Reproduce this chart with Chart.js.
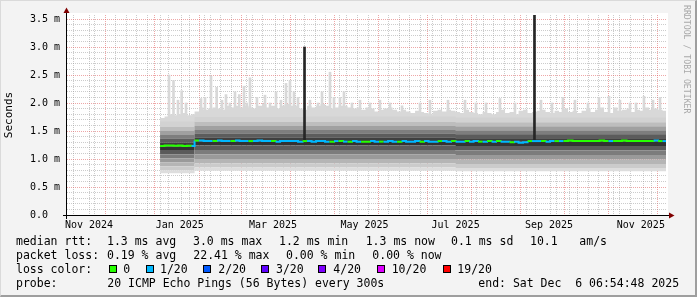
<!DOCTYPE html>
<html>
<head>
<meta charset="utf-8">
<script src="https://cdn.jsdelivr.net/npm/chart.js@4.4.1/dist/chart.umd.min.js"></script>
<style>
body { margin: 0; background: #f3f3f3; }
#wrap { position: relative; width: 697px; height: 297px; overflow: hidden; background: #f3f3f3; font-family: 'DejaVu Sans Mono', monospace; }
#frame { position: absolute; left: 0; top: 0; width: 697px; height: 297px; box-sizing: border-box; border-style: solid; border-width: 1px 2px 2px 1px; border-color: #dadada #9e9e9e #9e9e9e #dadada; pointer-events: none; }
.lg { position: absolute; font-size: 11.5px; line-height: 14px; white-space: pre; color: #000; }
.box { position: absolute; width: 8px; height: 8px; box-sizing: border-box; border: 1px solid #000; }
#mark { position: absolute; left: 682px; top: 5px; writing-mode: vertical-rl; font-size: 8.2px; line-height: 9px; color: #a8a8a8; white-space: pre; }
canvas { position: absolute; left: 0; top: 0; }
</style>
</head>
<body>
<div id="wrap">
  <canvas id="grafica" width="697" height="297"></canvas>
  <div id="mark">RRDTOOL / TOBI OETIKER</div>
  <div id="leyenda"></div>
  <div id="frame"></div>
</div>
<script>
// --- DATOS (x = dias desde 2024-11-01 00:00, y = ms) ---
const xStart = 0.288;    // Nov 1 2024 06:54:48
const xEnd = 400.288;    // Dec 6 2025 06:54:48
const monthStarts = [30, 61, 92, 120, 151, 181, 212, 242, 273, 304, 334, 365, 395];
const monthLabels = ['Nov 2024', 'Jan 2025', 'Mar 2025', 'May 2025', 'Jul 2025', 'Sep 2025', 'Nov 2025'];
const labelDays = [15.6, 76.1, 138.3, 199.3, 260, 322.3, 383.5];
const firstSunday = 2;

// muestras cada ~3 dias
const sampleDays = [63,66,69,72,75,78,81,84,
  86,89,92,95,98,101,104,107,110,113,116,119,122,125,128,131,134,137,140,143,146,149,
  152,155,158,161,164,167,170,173,176,179,182,185,188,191,194,197,200,203,206,209,212,215,
  218,221,224,227,230,233,236,239,242,245,248,251,254,257,260,263,266,269,272,275,278,281,
  284,287,290,293,296,299,302,305,308,311,314,317,320,323,326,329,332,335,338,341,344,347,
  350,353,356,359,362,365,368,371,374,377,380,383,386,389,392,395,398,400.288];

// techo del humo (base de la cola de pings altos)
const tailMax = [1.73,1.76,1.80,1.78,1.80,1.82,1.78,1.80,
  1.85,1.92,1.88,1.90,1.92,1.90,1.88,1.95,1.92,1.95,1.92,
  1.95,1.92,1.90,1.95,1.98,1.92,1.95,1.90,1.95,1.98,1.95,
  1.95,1.90,1.88,1.95,1.92,1.95,1.98,1.95,1.90,1.92,1.95,
  1.95,1.92,1.90,1.92,1.88,1.92,1.90,1.85,1.88,1.90,1.92,
  1.88,1.85,1.88,1.85,1.82,1.86,1.84,1.82,1.80,1.86,1.88,
  1.85,1.88,1.86,1.84,1.82,1.88,1.84,1.82,1.80,1.84,1.82,
  1.80,1.84,1.88,1.82,1.84,1.80,1.86,1.88,1.82,1.84,1.86,
  1.88,1.84,1.82,1.86,1.84,1.90,1.84,1.86,1.82,1.86,1.90,
  1.84,1.88,1.92,1.84,1.82,1.92,1.86,1.88,1.90,1.84,1.88,
  1.86,1.92,1.88,1.90,1.88,1.86,1.86];

// picos finos de la cola (ping maximo)
const tailSpikeDays = [68.95, 71.95, 74.95, 77.4, 80.3, 90.3, 92.95, 96.95, 100.75, 104.3,
  106.95, 109.6, 112.95, 115.8, 118.95, 120.75, 122.95, 127.6, 132.95, 136.3,
  140.3, 143.6, 146.95, 149.6, 152.3, 154.95, 162.95, 168.3, 170.95, 176.3,
  178.95, 182.95, 185.6, 190.95, 196.3, 202.95, 209.6, 216.3, 224.3, 236.3,
  242.95, 254.95, 266.3, 273.6, 280.3, 289.6, 299.6, 316.95, 324.3, 331.6,
  339.6, 348.3, 355.6, 362.3, 369.6, 376.3, 380.3, 385.6, 391.6, 396.3];
const tailSpikeTop = [2.50, 2.40, 2.05, 2.22, 2.00, 2.08, 2.10, 2.48, 2.28, 2.05,
  2.15, 2.00, 2.20, 2.15, 2.30, 2.00, 2.45, 2.10, 2.14, 2.00,
  2.20, 2.05, 2.35, 2.40, 2.20, 2.10, 2.05, 2.00, 2.20, 2.55,
  2.10, 2.10, 2.20, 2.00, 2.05, 2.00, 2.05, 2.00, 1.95, 2.00,
  2.05, 2.05, 2.05, 2.00, 2.00, 2.08, 2.00, 2.05, 2.00, 2.10,
  2.05, 2.00, 2.10, 2.12, 2.05, 2.00, 2.00, 2.12, 2.05, 2.10];

// mediana rtt
const medianRtt = [1.23,1.24,1.24,1.235,1.24,1.23,1.235,1.23,
  1.33,1.33,1.32,1.32,1.32,1.33,1.32,1.32,1.32,1.33,1.32,
  1.32,1.32,1.32,1.33,1.32,1.32,1.32,1.31,1.32,1.32,1.32,
  1.32,1.31,1.32,1.32,1.31,1.32,1.32,1.31,1.31,1.32,1.32,
  1.31,1.31,1.32,1.31,1.31,1.31,1.32,1.31,1.31,1.31,1.32,
  1.31,1.31,1.32,1.31,1.31,1.32,1.31,1.32,1.31,1.31,1.32,
  1.32,1.31,1.32,1.31,1.31,1.32,1.31,1.32,1.31,1.31,1.32,
  1.31,1.32,1.31,1.31,1.30,1.31,1.29,1.30,1.32,1.32,1.32,
  1.32,1.31,1.32,1.32,1.32,1.32,1.33,1.32,1.32,1.32,1.32,
  1.32,1.32,1.33,1.32,1.32,1.32,1.32,1.33,1.32,1.32,1.32,
  1.32,1.32,1.32,1.33,1.32,1.32,1.32];

// indice de perdida (0 = 0, 1 = 1/20 ...)
const lossIdx = [0,0,0,0,0,0,0,1,
  0,1,1,1,0,1,1,1,0,1,1,
  1,0,1,1,1,1,0,1,1,1,1,
  1,1,0,1,1,1,1,1,0,1,0,
  1,0,1,1,0,0,1,1,0,1,1,
  1,0,1,1,1,1,0,1,1,1,0,
  1,1,0,1,1,0,1,1,0,1,0,
  1,0,1,1,0,1,1,1,0,1,1,
  0,1,1,0,1,0,0,0,0,0,0,
  0,0,0,0,1,0,0,0,0,0,0,
  0,0,0,1,0,1,1];

// bandas del humo (de abajo hacia arriba)
const bandDays = [63, 86, 160, 260, 400.288];
const lvl0  = [0.745, 0.79, 0.79, 0.78, 0.78];
const lvl1  = [0.80, 0.85, 0.85, 0.84, 0.84];
const lvl2  = [0.87, 0.92, 0.92, 0.91, 0.91];
const lvl3  = [0.94, 1.00, 1.00, 0.99, 0.99];
const lvl4  = [1.01, 1.08, 1.08, 1.07, 1.07];
const lvl5  = [1.08, 1.16, 1.16, 1.15, 1.15];
const lvl6  = [1.16, 1.24, 1.24, 1.23, 1.23];
const lvl7  = [1.225, 1.31, 1.31, 1.31, 1.31];
const lvl8  = [1.29, 1.38, 1.38, 1.37, 1.37];
const lvl9  = [1.36, 1.45, 1.45, 1.44, 1.44];
const lvl10 = [1.43, 1.52, 1.52, 1.51, 1.51];
const lvl11 = [1.50, 1.59, 1.59, 1.58, 1.58];
const lvl12 = [1.57, 1.66, 1.66, 1.65, 1.65];
const lvl13 = [1.67, 1.75, 1.76, 1.74, 1.74];
const smokeLevels = [lvl0, lvl1, lvl2, lvl3, lvl4, lvl5, lvl6, lvl7, lvl8, lvl9, lvl10, lvl11, lvl12, lvl13];

// picos aislados oscuros
const spikeDays = [159.3, 312.6];
const spikeLow = [1.33, 1.33];
const spikeHigh = [3.0, 3.6];

// leyenda
const lossLabels = ['0', '1/20', '2/20', '3/20', '4/20', '10/20', '19/20'];
const lossColors = ['#26ff00', '#00b8ff', '#0059ff', '#5e00ff', '#7e00ff', '#dd00ff', '#ff0000'];

// --- ESTILOS ---
const bandShades = ['#dddddd', '#cbcbcb', '#b5b5b5', '#9a9a9a', '#7c7c7c', '#5a5a5a', '#333333',
  '#3f3f3f', '#5c5c5c', '#7e7e7e', '#a0a0a0', '#bdbdbd', '#d2d2d2'];
const tailShade = '#d8d8d8';
const gridGris = 'rgba(143,143,143,0.45)';
const gridRojo = 'rgba(222,80,80,0.5)';
const nada = 'rgba(0,0,0,0)';

function esMayorY(v) { return Math.abs(v * 2 - Math.round(v * 2)) < 1e-6; }
function cerca(a, b) { return Math.abs(a - b) < 1e-6; }

// --- DATASETS ---
const datasets = [];
datasets.push({
    label: 'max',
    data: sampleDays.map((d, i) => ({ x: d, y: tailMax[i] })),
    stepped: true, borderWidth: 0, borderColor: nada,
    backgroundColor: tailShade, fill: { value: 1.3 }, order: 100
});
datasets.push({
    type: 'bar',
    label: 'max spikes',
    data: tailSpikeDays.map((d, i) => ({ x: d, y: [1.6, tailSpikeTop[i]] })),
    backgroundColor: tailShade, borderWidth: 0, barThickness: 2, grouped: false, order: 90
});
smokeLevels.forEach((lvl, k) => {
    datasets.push({
        label: 'lvl' + k,
        data: bandDays.map((d, i) => ({ x: d, y: lvl[i] })),
        stepped: true, borderWidth: 0, borderColor: nada,
        backgroundColor: k > 0 ? bandShades[k - 1] : nada,
        fill: k > 0 ? '-1' : false, order: 50
    });
});
datasets.push({
    type: 'bar',
    label: 'spikes',
    data: spikeDays.map((d, i) => ({ x: d, y: [spikeLow[i], spikeHigh[i]] })),
    backgroundColor: '#262626', borderWidth: 0, barThickness: 2, grouped: false, order: 10
});
datasets.push({
    label: 'median rtt',
    data: sampleDays.map((d, i) => ({ x: d, y: medianRtt[i] })),
    stepped: true, borderWidth: 2, fill: false, order: 0,
    borderColor: lossColors[0],
    segment: { borderColor: ctx => lossColors[lossIdx[ctx.p0DataIndex]] }
});

// --- PLUGINS ---
const fondoPlugin = {
    id: 'fondo',
    beforeDraw(chart) {
        const { ctx, chartArea: a } = chart;
        ctx.save();
        ctx.fillStyle = '#ffffff';
        ctx.fillRect(a.left, a.top - 2, a.right - a.left + 2, a.bottom - a.top + 2);
        ctx.restore();
    }
};
const flechasPlugin = {
    id: 'flechas',
    afterDraw(chart) {
        const { ctx, chartArea: a } = chart;
        const x0 = Math.round(a.left) + 0.5, y0 = Math.round(a.bottom) + 0.5;
        ctx.save();
        ctx.strokeStyle = '#000';
        ctx.lineWidth = 1;
        ctx.beginPath();
        ctx.moveTo(a.left - 3, y0); ctx.lineTo(a.right + 4, y0);
        ctx.moveTo(x0, a.bottom + 4); ctx.lineTo(x0, a.top - 3);
        ctx.stroke();
        ctx.fillStyle = '#800000';
        ctx.beginPath();
        ctx.moveTo(a.right + 3, y0 - 3); ctx.lineTo(a.right + 8.5, y0); ctx.lineTo(a.right + 3, y0 + 3);
        ctx.closePath(); ctx.fill();
        ctx.beginPath();
        ctx.moveTo(x0 - 3, a.top - 2); ctx.lineTo(x0, a.top - 7.5); ctx.lineTo(x0 + 3, a.top - 2);
        ctx.closePath(); ctx.fill();
        ctx.restore();
    }
};

// --- GRAFICA ---
Chart.defaults.font.family = "'DejaVu Sans Mono', monospace";
Chart.defaults.color = '#000';

new Chart(document.getElementById('grafica').getContext('2d'), {
    type: 'line',
    data: { datasets },
    options: {
        responsive: false,
        animation: false,
        events: [],
        layout: { padding: { left: 0, right: 31, top: 15, bottom: 62 } },
        elements: { point: { radius: 0 } },
        plugins: { legend: { display: false }, tooltip: { enabled: false } },
        scales: {
            x: {
                type: 'linear', min: xStart, max: xEnd, offset: false,
                afterBuildTicks: scale => {
                    const vals = new Set(monthStarts);
                    for (let d = firstSunday; d < xEnd; d += 7) if (d > xStart) vals.add(d);
                    labelDays.forEach(d => vals.add(d));
                    scale.ticks = [...vals].sort((a, b) => a - b).map(v => ({ value: v }));
                },
                afterFit: scale => { scale.height = 20; },
                grid: {
                    drawTicks: false, lineWidth: 1,
                    color: ctx => {
                        const v = ctx.tick ? ctx.tick.value : null;
                        if (v === null) return nada;
                        if (labelDays.some(d => cerca(d, v))) return nada;
                        return monthStarts.includes(v) ? gridRojo : gridGris;
                    }
                },
                border: { display: true, color: '#000', width: 1, dash: [1, 1] },
                ticks: {
                    autoSkip: false, maxRotation: 0, minRotation: 0, padding: 4,
                    font: { size: 10 },
                    callback: v => {
                        const i = labelDays.findIndex(d => cerca(d, v));
                        return i >= 0 ? monthLabels[i] : '';
                    }
                }
            },
            y: {
                type: 'linear', min: 0, max: 200 / 56,
                afterFit: scale => { scale.width = 66; },
                title: { display: true, text: 'Seconds', font: { size: 11 }, padding: { top: 3, bottom: 0 } },
                grid: {
                    drawTicks: false, lineWidth: 1,
                    color: ctx => ctx.tick && esMayorY(ctx.tick.value) ? gridRojo : gridGris
                },
                border: { display: true, color: '#000', width: 1, dash: [1, 1] },
                ticks: {
                    stepSize: 0.1, includeBounds: false, autoSkip: false, padding: 6,
                    font: { size: 10 },
                    callback: v => {
                        if (!esMayorY(v)) return '';
                        return v === 0 ? '0.0  ' : v.toFixed(1) + ' m';
                    }
                }
            }
        }
    },
    plugins: [fondoPlugin, flechasPlugin]
});

// --- LEYENDA INFERIOR ---
const lineasTop = [234, 248, 262, 276];
const textos = [
    [0, 16, 'median rtt:'], [0, 107, '1.3 ms avg'], [0, 193, '3.0 ms max'], [0, 279, '1.2 ms min'],
    [0, 365.7, '1.3 ms now'], [0, 451, '0.1 ms sd'], [0, 530, '10.1'], [0, 579.3, 'am/s'],
    [1, 16, 'packet loss:'], [1, 107, '0.19 % avg'], [1, 193.3, '22.41 % max'], [1, 286, '0.00 % min'], [1, 372.3, '0.00 % now'],
    [2, 16, 'loss color:'],
    [3, 16, 'probe:'], [3, 107.3, '20 ICMP Echo Pings (56 Bytes) every 300s'], [3, 478.3, 'end: Sat Dec  6 06:54:48 2025']
];
const boxX = [108.7, 145.7, 203.3, 260.7, 318.3, 376.7, 442.7];
const boxLabelX = [123.3, 160, 218.3, 276, 333.3, 391.7, 457.3];

const leyenda = document.getElementById('leyenda');
textos.forEach(([fila, x, t]) => {
    const s = document.createElement('div');
    s.className = 'lg';
    s.style.left = x + 'px';
    s.style.top = lineasTop[fila] + 'px';
    s.textContent = t;
    leyenda.appendChild(s);
});
lossLabels.forEach((lab, i) => {
    const b = document.createElement('div');
    b.className = 'box';
    b.style.left = Math.round(boxX[i]) + 'px';
    b.style.top = '265px';
    b.style.background = lossColors[i];
    leyenda.appendChild(b);
    const s = document.createElement('div');
    s.className = 'lg';
    s.style.left = boxLabelX[i] + 'px';
    s.style.top = lineasTop[2] + 'px';
    s.textContent = lab;
    leyenda.appendChild(s);
});
</script>
</body>
</html>
